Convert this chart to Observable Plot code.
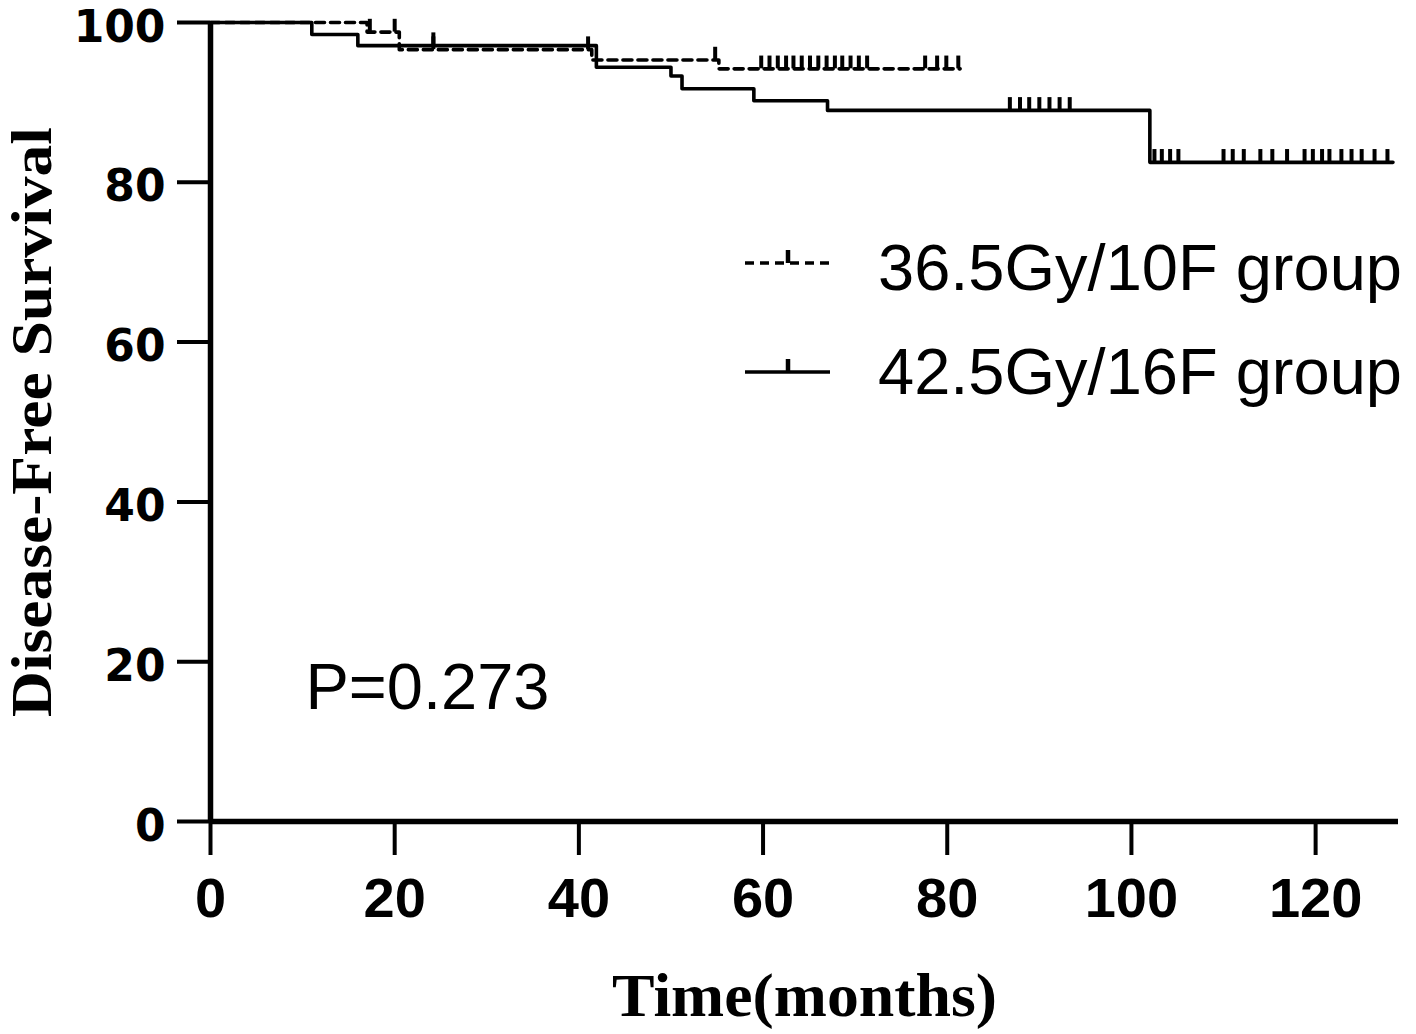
<!DOCTYPE html>
<html>
<head>
<meta charset="utf-8">
<script src="https://cdn.jsdelivr.net/npm/d3@7"></script>
<script src="https://cdn.jsdelivr.net/npm/@observablehq/plot@0.6"></script>
<style>
  html, body { margin: 0; padding: 0; background: #fff; }
  #wrap { position: relative; width: 1416px; height: 1034px; }
  #legend { position: absolute; left: 0; top: 0; pointer-events: none; }
</style>
</head>
<body>
<div id="wrap"></div>
<script>
// ---------- data ----------
const groupNames = ["36.5Gy/10F group", "42.5Gy/16F group"];

// 36.5Gy/10F group (dashed)
const dropTimesA = [17.0, 20.5, 41.4, 55.2];
const survA      = [98.8, 96.6, 95.3, 94.2];
const endTimeA   = 81.4;
const censorTimesA = [17.3, 20.0, 24.2, 41.0, 54.8, 59.8, 60.7, 61.6, 62.5, 63.3, 64.2, 65.1, 66.0,
                      66.9, 67.8, 68.6, 69.5, 70.4, 71.3, 77.6, 78.9, 79.9, 81.2];

// 42.5Gy/16F group (solid)
const dropTimesB = [11.0, 16.0, 41.9, 50.0, 51.2, 59.0, 67.0, 102.0];
const survB      = [98.5, 97.1, 94.4, 93.3, 91.7, 90.2, 89.0, 82.5];
const endTimeB   = 128.4;
const censorTimesB = [24.2, 86.8, 87.9, 88.9, 90.0, 91.1, 92.2, 93.3, 102.5, 103.3, 104.2, 105.1,
                      110.0, 111.0, 112.2, 114.0, 115.3, 116.9, 118.8, 119.7, 120.7, 121.5,
                      122.8, 123.9, 125.0, 126.4, 127.8];

const xTicks = [0, 20, 40, 60, 80, 100, 120];
const yTicks = [0, 20, 40, 60, 80, 100];
const pValueText = "P=0.273";
const xTitle = "Time(months)";
const yTitle = "Disease-Free Survival";

// ---------- build step tables ----------
function stepTable(group, times, surv, end) {
  const rows = [{group, t: 0, s: 100}];
  times.forEach((t, i) => rows.push({group, t, s: surv[i]}));
  rows.push({group, t: end, s: surv[surv.length - 1]});
  return rows;
}
function survAt(times, surv, t) {
  let s = 100;
  times.forEach((tt, i) => { if (tt <= t) s = surv[i]; });
  return s;
}
const lineA = stepTable(groupNames[0], dropTimesA, survA, endTimeA);
const lineB = stepTable(groupNames[1], dropTimesB, survB, endTimeB);
const censA = censorTimesA.map(t => ({t, s: survAt(dropTimesA, survA, t)}));
const censB = censorTimesB.map(t => ({t, s: survAt(dropTimesB, survB, t)}));
const tickLen = 1.6; // censor tick length in survival units

const chart = Plot.plot({
  width: 1416,
  height: 1034,
  marginLeft: 210,
  marginRight: 18,
  marginTop: 22,
  marginBottom: 213,
  x: {domain: [0, 129]},
  y: {domain: [0, 100]},
  style: {background: "white", color: "black", overflow: "visible"},
  marks: [
    Plot.axisY({ticks: yTicks, tickSize: 33, strokeWidth: 4, label: null, tickFormat: () => ""}),
    Plot.text(yTicks, {y: d => d, text: d => String(d), frameAnchor: "left", dx: -45, dy: 5,
      textAnchor: "end", lineAnchor: "middle", fontSize: 44, fontWeight: "bold", fontFamily: "DejaVu Sans"}),
    Plot.axisX({ticks: xTicks, tickSize: 34, tickPadding: 22, strokeWidth: 4,
      fontSize: 56, fontWeight: "bold", fontFamily: "Liberation Sans", label: null, tickFormat: d => String(d)}),
    Plot.ruleY([0], {strokeWidth: 5.5}),
    Plot.ruleX([0], {strokeWidth: 5.5}),
    Plot.line(lineB, {x: "t", y: "s", curve: "step-after", stroke: "black", strokeWidth: 3.6}),
    Plot.line(lineA, {x: "t", y: "s", curve: "step-after", stroke: "black", strokeWidth: 3.6, strokeDasharray: "9,6"}),
    Plot.ruleX(censB, {x: "t", y1: "s", y2: d => d.s + tickLen, stroke: "black", strokeWidth: 4}),
    Plot.ruleX(censA, {x: "t", y1: "s", y2: d => d.s + tickLen, stroke: "black", strokeWidth: 4}),
    Plot.text([pValueText], {frameAnchor: "bottom-left", dx: 95, dy: -113, textAnchor: "start", lineAnchor: "bottom",
      fontSize: 65, fontFamily: "Liberation Sans"}),
    Plot.text([xTitle], {frameAnchor: "bottom", dy: 194, textAnchor: "middle", lineAnchor: "bottom",
      fontSize: 62, fontWeight: "bold", fontFamily: "Liberation Serif"}),
    Plot.text([yTitle], {frameAnchor: "left", dx: -178, rotate: -90, textAnchor: "middle", lineAnchor: "middle",
      fontSize: 58, fontWeight: "bold", fontFamily: "Liberation Serif"})
  ]
});
document.getElementById("wrap").appendChild(chart);

// stretch titles to the reference's lengths
d3.select(chart).selectAll("text").each(function() {
  const t = this.textContent;
  if (t === yTitle) d3.select(this).attr("textLength", 590).attr("lengthAdjust", "spacingAndGlyphs");
  if (t === xTitle) d3.select(this).attr("textLength", 385).attr("lengthAdjust", "spacingAndGlyphs");
});

// ---------- legend overlay ----------
const leg = d3.select("#wrap").append("svg").attr("id", "legend")
  .attr("width", 1416).attr("height", 1034);
const rows = [
  {name: groupNames[0], dash: "9,6", ly: 263, ty: 290},
  {name: groupNames[1], dash: null, ly: 372, ty: 394}
];
rows.forEach(r => {
  leg.append("line").attr("x1", 745).attr("x2", 830).attr("y1", r.ly).attr("y2", r.ly)
    .attr("stroke", "black").attr("stroke-width", 3.4).attr("stroke-dasharray", r.dash);
  leg.append("line").attr("x1", 788).attr("x2", 788).attr("y1", r.ly).attr("y2", r.ly - 13)
    .attr("stroke", "black").attr("stroke-width", 4.5);
  leg.append("text").attr("x", 878).attr("y", r.ty).text(r.name)
    .attr("font-family", "Liberation Sans").attr("font-size", 65).attr("fill", "black");
});
</script>
</body>
</html>
